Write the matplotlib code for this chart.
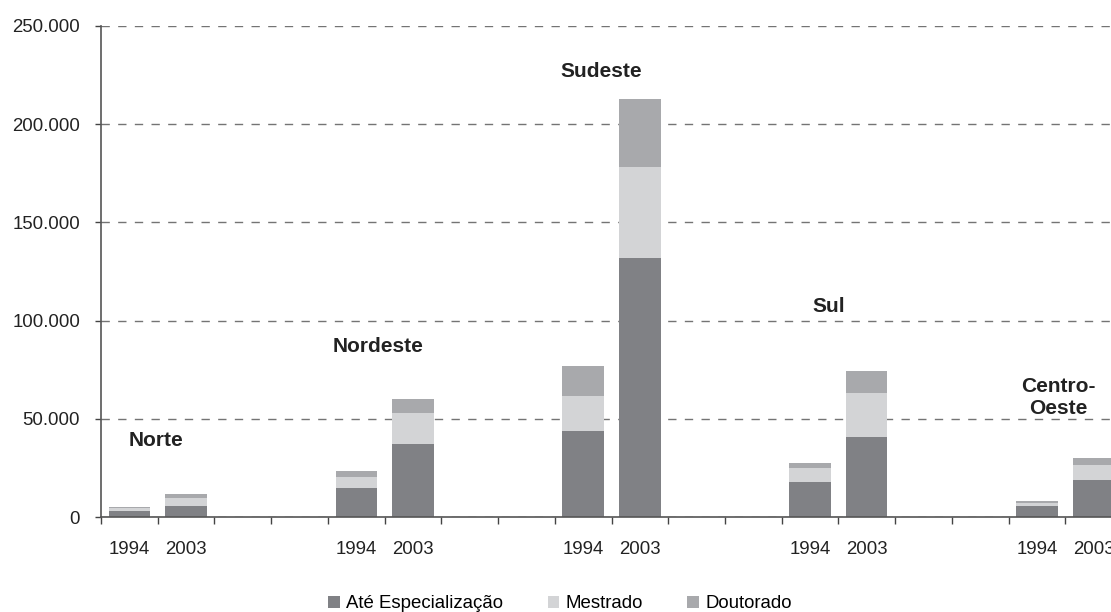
import numpy as np
import matplotlib
matplotlib.use('Agg')
import matplotlib.pyplot as plt
from matplotlib.patches import Patch
from matplotlib.ticker import FuncFormatter

plt.rcParams['font.family'] = ['Liberation Sans', 'DejaVu Sans']

regions = ['Norte', 'Nordeste', 'Sudeste', 'Sul', 'Centro-\nOeste']
years = ['1994', '2003']
# values per region: [1994, 2003]
ate_espec = [[3000, 5600], [14800, 37200], [44000, 131900], [17800, 40700], [5600, 18800]]
mestrado = [[1500, 4100], [5600, 15800], [17600, 46300], [7200, 22300], [1400, 7700]]
doutorado = [[400, 2000], [3000, 7000], [15300, 34600], [2500, 11300], [1100, 3500]]
series_names = ['Até Especialização', 'Mestrado', 'Doutorado']
colors = ['#808185', '#d3d4d6', '#a8a9ac']

# layout: two bars per region, then two empty slots
n_slots = 4 * len(regions) - 2
pos, tick_lab = [], [''] * n_slots
for g in range(len(regions)):
    for k, y in enumerate(years):
        pos.append(4 * g + k)
        tick_lab[4 * g + k] = y
pos = np.array(pos)
a = np.array(ate_espec).ravel()
m = np.array(mestrado).ravel()
d = np.array(doutorado).ravel()

fig = plt.figure(figsize=(11.11, 6.12), dpi=100)
ax = fig.add_axes([101 / 1111, 95 / 612, 1021 / 1111, 491 / 612])

w = 0.73
ax.bar(pos, a, w, color=colors[0], zorder=2)
ax.bar(pos, m, w, bottom=a, color=colors[1], zorder=2)
ax.bar(pos, d, w, bottom=a + m, color=colors[2], zorder=2)

ax.set_xlim(-0.5, n_slots - 0.5)
ax.set_ylim(0, 250000)
ax.set_yticks(np.arange(0, 250001, 50000))
ax.yaxis.set_major_formatter(FuncFormatter(lambda v, p: f'{int(v):,}'.replace(',', '.')))
ax.yaxis.grid(True, linestyle=(0, (6, 6)), color='#747474', linewidth=1, zorder=0)

ax.set_xticks(range(n_slots))
ax.set_xticklabels(tick_lab)
ax.set_xticks(np.arange(-0.5, n_slots, 1), minor=True)
ax.tick_params(axis='x', which='major', length=0, pad=17, labelsize=13.4, labelcolor='#222222')
ax.tick_params(axis='x', which='minor', length=5, width=1, color='#444444', direction='out')
ax.tick_params(axis='y', length=4.5, width=1, color='#444444', pad=10.5, labelsize=13.4,
               labelcolor='#222222')

for s in ['top', 'right']:
    ax.spines[s].set_visible(False)
for s in ['left', 'bottom']:
    ax.spines[s].set_color('#555555')
    ax.spines[s].set_linewidth(1.2)

# region labels
lab_x = [0.47, 4.38, 8.32, 12.33, 16.37]
lab_y = [39000, 87000, 227000, 107000, 61000]
for r, lx, ly in zip(regions, lab_x, lab_y):
    ax.text(lx, ly, r, ha='center', va='center', fontsize=15, fontweight='bold',
            color='#222222', linespacing=1.2, zorder=3)

handles = [Patch(facecolor=c, edgecolor='none') for c in colors]
fig.legend(handles, series_names, loc='center', bbox_to_anchor=(560 / 1111, 1 - 604 / 612),
           ncol=3, frameon=False, fontsize=13.4, handlelength=0.6, handleheight=0.6,
           handletextpad=0.35, columnspacing=2.4, borderpad=0)

fig.savefig('out.png', dpi=100)
